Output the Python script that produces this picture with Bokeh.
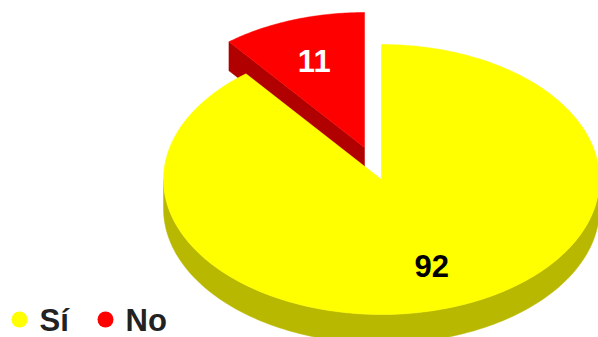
import numpy as np
from bokeh.plotting import figure
from bokeh.models import Range1d, ColumnDataSource
from bokeh.core.properties import value
from bokeh.embed import file_html
from bokeh.resources import INLINE

# ---- data ----
categories = ["Sí", "No"]
values = [92, 11]
top_colors = ["#FFFF00", "#FF0000"]
side_colors = ["#B8B800", "#B00000"]
label_colors = ["#000000", "#FFFFFF"]

W, H = 598, 337
FONT = value("Liberation Sans")

p = figure(width=W, height=H, output_backend="svg", toolbar_location=None,
           x_range=Range1d(0, W), y_range=Range1d(H, 0),
           x_axis_location=None, y_axis_location=None,
           min_border=0, outline_line_color=None)
p.xgrid.visible = False
p.ygrid.visible = False

total = float(sum(values))
frac = [v / total for v in values]

# geometry (layout)
cx, cy = 381.0, 179.0          # centre of main slice
rx, ry = 218.0, 135.0
depth = 29.0
ex_dx, ex_dy = -17.0, -32.0    # explosion offset of second slice
kx, ky = 0.70, 0.68            # label radius factors


def pt(c, th):
    return c[0] + rx * np.sin(th), c[1] - ry * np.cos(th)


# angle spans (clockwise from 12 o'clock); second slice goes counter-clockwise
span_yes = 2 * np.pi * frac[0]
span_no = 2 * np.pi * frac[1]

# ---- exploded "No" slice ----
c2 = (cx + ex_dx, cy + ex_dy)
th_no = np.linspace(-span_no, 0, 60)
ax, ay = pt(c2, th_no)
cornx, corny = ax[0], ay[0]
p.patch([c2[0], cornx, cornx, c2[0]], [c2[1], corny, corny + depth, c2[1] + depth],
        fill_color=side_colors[1], line_color=side_colors[1], line_width=0.5)
p.patch(np.r_[c2[0], ax], np.r_[c2[1], ay],
        fill_color=top_colors[1], line_color=top_colors[1], line_width=0.5)

# ---- main "Sí" slice ----
c1 = (cx, cy)
th_side = np.linspace(np.pi / 2, 3 * np.pi / 2, 120)
sx, sy = pt(c1, th_side)
p.patch(np.r_[sx, sx[::-1]], np.r_[sy, sy[::-1] + depth],
        fill_color=side_colors[0], line_color=side_colors[0], line_width=0.5)
th_yes = np.linspace(0, span_yes, 240)
yx, yy = pt(c1, th_yes)
p.patch(np.r_[c1[0], yx], np.r_[c1[1], yy],
        fill_color=top_colors[0], line_color=top_colors[0], line_width=0.5)

# ---- value labels ----
mids = [span_yes / 2, -span_no / 2]
centres = [c1, c2]
lx = [c[0] + kx * rx * np.sin(m) for c, m in zip(centres, mids)]
ly = [c[1] - ky * ry * np.cos(m) for c, m in zip(centres, mids)]
src = ColumnDataSource(dict(x=lx, y=ly, t=[str(v) for v in values], c=label_colors))
p.text(x="x", y="y", text="t", text_color="c", source=src, text_align="center",
       text_baseline="middle", text_font=FONT, text_font_style="bold",
       text_font_size="31px")

# ---- legend ----
leg_x = [19.0, 105.0]
leg_y = 319.0
p.scatter(leg_x, [leg_y] * 2, size=16, marker="circle", fill_color=top_colors,
          line_color=None)
p.text(x=[x + 20 for x in leg_x], y=[leg_y + 1] * 2, text=categories,
       text_align="left", text_baseline="middle", text_font=FONT,
       text_font_style="bold", text_font_size="31px", text_color="#222222")

open("out.html", "w").write(file_html(p, INLINE))
